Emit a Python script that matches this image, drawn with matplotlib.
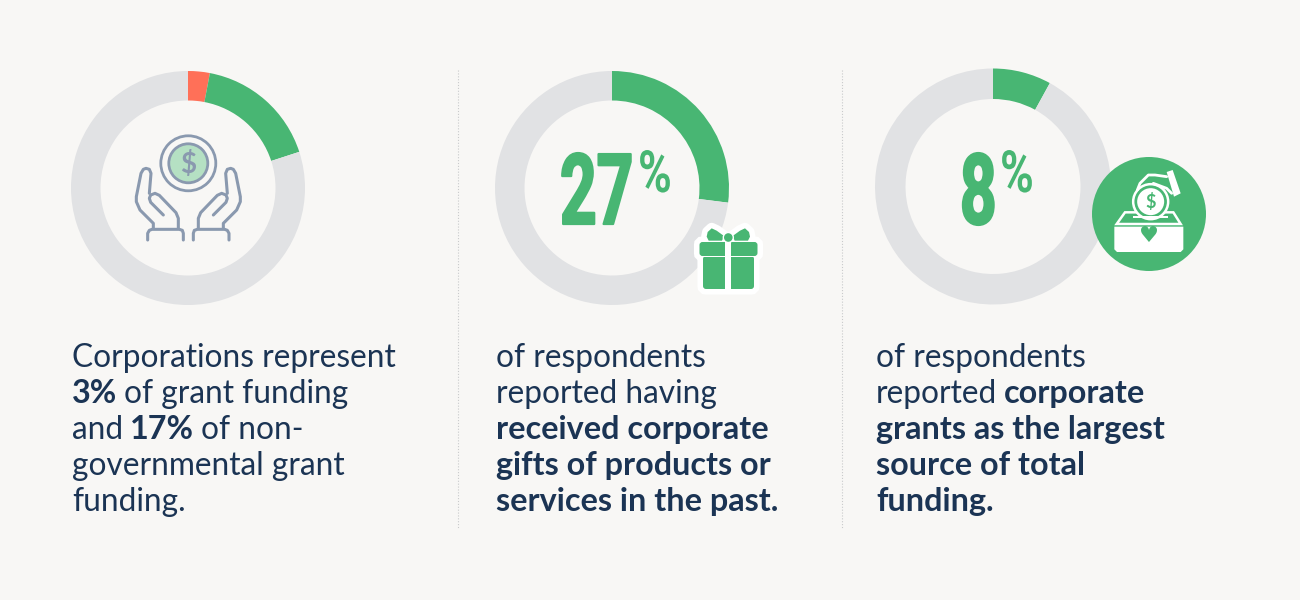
import matplotlib
matplotlib.use("Agg")
import matplotlib.pyplot as plt
from matplotlib.patches import Circle, FancyBboxPatch, Polygon, Rectangle
from matplotlib.patheffects import AbstractPathEffect
from matplotlib.transforms import Affine2D

BG = "#F8F7F5"
GREY = "#E1E2E4"
GREEN = "#48B673"
RED = "#FF7058"
NAVY = "#1B3454"
ICON = "#8A99AF"
MINT = "#B5E0C3"

# donut values, percent, drawn clockwise from 12 o'clock
donut1_values = [3, 17, 80]
donut1_colors = [RED, GREEN, GREY]
donut2_values = [27, 73]
donut3_values = [8, 92]
donut2_label = "27"
donut3_label = "8"

# (text, bold) runs per line
text1 = [
    [("Corporations represent", False)],
    [("3%", True), ("of grant funding", False)],
    [("and", False), ("17%", True), ("of non-", False)],
    [("governmental grant", False)],
    [("funding.", False)],
]
text2 = [
    [("of respondents", False)],
    [("reported having", False)],
    [("received corporate", True)],
    [("gifts of products or", True)],
    [("services in the past.", True)],
]
text3 = [
    [("of respondents", False)],
    [("reported", False), ("corporate", True)],
    [("grants as the largest", True)],
    [("source of total", True)],
    [("funding.", True)],
]


class Tall(AbstractPathEffect):
    # stretches glyphs upward from the baseline, no condensed font here
    def __init__(self, baseline, sy, lw, color):
        super().__init__()
        self.y0, self.sy, self.lw, self.color = 600 - baseline, sy, lw, color

    def draw_path(self, renderer, gc, tpath, affine, rgbFace=None):
        gc0 = renderer.new_gc()
        gc0.copy_properties(gc)
        gc0.set_linewidth(self.lw)
        gc0.set_foreground(self.color)
        tall = affine + Affine2D().translate(0, -self.y0).scale(1, self.sy).translate(0, self.y0)
        renderer.draw_path(gc0, tpath, tall, rgbFace)
        gc0.restore()


fig = plt.figure(figsize=(13, 6), dpi=100, facecolor=BG)


def donut(values, colors, cx, cy, r_out=117, r_in=87.5):
    a = fig.add_axes([(cx - r_out) / 1300, 1 - (cy + r_out) / 600, 2 * r_out / 1300, 2 * r_out / 600])
    a.pie(values, colors=colors, startangle=90, counterclock=False, radius=1,
          wedgeprops={"width": 1 - r_in / r_out, "linewidth": 0})
    a.set_xlim(-1, 1)
    a.set_ylim(-1, 1)
    a.patch.set_alpha(0)


donut(donut1_values, donut1_colors, 188, 188)
donut(donut2_values, [GREEN, GREY], 612, 188)
donut(donut3_values, [GREEN, GREY], 993, 186.5, r_out=118)

ax = fig.add_axes([0, 0, 1, 1])
ax.set_xlim(0, 1300)
ax.set_ylim(600, 0)
ax.axis("off")
ax.patch.set_alpha(0)

for x in (458, 842):
    ax.plot([x, x], [70, 528], color="#C9CACB", lw=0.8, ls=(0, (1, 1.6)))


def big_number(s, x, baseline, pct_x):
    ax.text(x, baseline, s, family="Roboto", weight="bold", fontsize=46, color=GREEN,
            va="baseline", ha="left", path_effects=[Tall(baseline, 1.54, 1.6, GREEN)])
    ax.text(pct_x, baseline - 32, "%", family="Roboto", weight="bold", fontsize=33, color=GREEN,
            va="baseline", ha="left", path_effects=[Tall(baseline - 32, 1.27, 0, GREEN)])


big_number(donut2_label, 560, 224, 638)
big_number(donut3_label, 960, 224, 1000)


def paragraph(lines, x0, y0, step=36, gap=7):
    renderer = fig.canvas.get_renderer()
    for i, runs in enumerate(lines):
        x = x0
        for s, bold in runs:
            t = ax.text(x, y0 + i * step, s, family="Lato", fontsize=23.3 if bold else 22.8,
                        weight="bold" if bold else "normal", color=NAVY, va="baseline", ha="left")
            x += t.get_window_extent(renderer).width + gap


paragraph(text1, 72, 367)
paragraph(text2, 496, 367)
paragraph(text3, 876, 367)


# hands and coin icon, coordinates from the 3x crop
def z1(pts):
    return [(60 + p[0] / 3, 60 + p[1] / 3) for p in pts]


ax.add_patch(Circle((188.3, 163.3), 27.5, fc="none", ec=ICON, lw=2))
ax.add_patch(Circle((188.3, 163.3), 19.5, fc=MINT, ec=ICON, lw=2))
ax.text(188.3, 164, "$", family="Lato", weight="bold", fontsize=20, color=ICON, ha="center", va="center")

hand = [(280, 505), (280, 490), (240, 450), (229, 425), (229, 410), (243, 340), (250, 328), (258, 325),
        (268, 328), (273, 340), (268, 400)]
thumb = [(310, 465), (272, 427), (268, 415), (272, 405), (285, 400), (298, 406), (348, 458), (355, 475), (355, 505)]
cuff = [(263, 540), (263, 520), (268, 511), (276, 508), (358, 508), (367, 511), (370, 520), (370, 540)]
for pts in (hand, thumb, cuff):
    for flip in (False, True):
        q = [(770 - p[0], p[1]) for p in pts] if flip else pts
        q = z1(q)
        ax.plot([p[0] for p in q], [p[1] for p in q], color=ICON, lw=2.2, solid_capstyle="round",
                solid_joinstyle="round")


# gift icon, white halo first and the green shapes on top
def z2(pts):
    return [(540 + p[0] / 3, 130 + p[1] / 3) for p in pts]


left_loop = [(552, 318), (530, 302), (515, 295), (503, 306), (500, 320), (506, 332), (546, 332)]
right_loop = [(1130 - p[0], p[1]) for p in left_loop]
for fc, ec, lw, z in ((GREEN, "white", 8, 3), (GREEN, "none", 0, 4)):
    ax.add_patch(FancyBboxPatch((703, 256), 51, 33, boxstyle="round,pad=0,rounding_size=3", fc=fc, ec=ec, lw=lw,
                                zorder=z))
    ax.add_patch(FancyBboxPatch((699.5, 242), 58, 14, boxstyle="round,pad=0,rounding_size=3", fc=fc, ec=ec, lw=lw,
                                zorder=z))
    for loop in (left_loop, right_loop):
        ax.add_patch(Polygon(z2(loop), closed=True, fc=fc, ec=ec, lw=lw, joinstyle="round", zorder=z))
ax.add_patch(Rectangle((699, 255.5), 59, 1.6, fc="white", ec="none", zorder=5))
ax.add_patch(Rectangle((725.3, 242), 5.6, 47, fc="white", ec="none", zorder=5))
ax.add_patch(Circle((728.3, 237.5), 5, fc=GREEN, ec="white", lw=1, zorder=6))


# donation box icon
def z3(pts):
    return [(940 + p[0] / 3, 130 + p[1] / 3) for p in pts]


ax.add_patch(Circle((1149, 214), 57, fc=GREEN, ec="none", zorder=3))
ax.add_patch(Polygon(z3([(523, 290), (730, 290), (730, 358), (722, 366), (531, 366), (523, 358)]), fc="white",
                     ec="none", zorder=4))
ax.add_patch(Polygon(z3([(530, 282), (555, 247), (700, 247), (722, 282)]), fc="none", ec="white", lw=1.8, zorder=4))
ax.add_patch(Circle((940 + 632 / 3, 130 + 215 / 3), 17.5, fc=GREEN, ec="white", lw=1.8, zorder=5))
ax.add_patch(Circle((940 + 632 / 3, 130 + 215 / 3), 13.5, fc="white", ec="none", zorder=6))
ax.text(940 + 632 / 3, 130 + 215 / 3 + 0.5, "$", family="Lato", weight="bold", fontsize=13, color=GREEN, ha="center",
        va="center", zorder=7)
ax.add_patch(Rectangle((940 + 578 / 3, 130 + 258 / 3), 35, 1.8, fc="white", ec="none", zorder=6))
hand3 = z3([(592, 180), (600, 160), (625, 135), (645, 135), (680, 140)])
ax.plot([p[0] for p in hand3], [p[1] for p in hand3], color="white", lw=2, solid_capstyle="round", zorder=5)
hand3b = z3([(640, 160), (680, 175), (695, 190)])
ax.plot([p[0] for p in hand3b], [p[1] for p in hand3b], color="white", lw=2, solid_capstyle="round", zorder=5)
ax.add_patch(Polygon(z3([(680, 126), (698, 120), (722, 190), (702, 200)]), fc="white", ec="none", zorder=5))
ax.text(940 + 627 / 3, 130 + 318 / 3, "\u2665", family="DejaVu Sans", fontsize=16, color=GREEN, ha="center",
        va="center", zorder=7)

fig.savefig("out.png", dpi=100, facecolor=BG)
